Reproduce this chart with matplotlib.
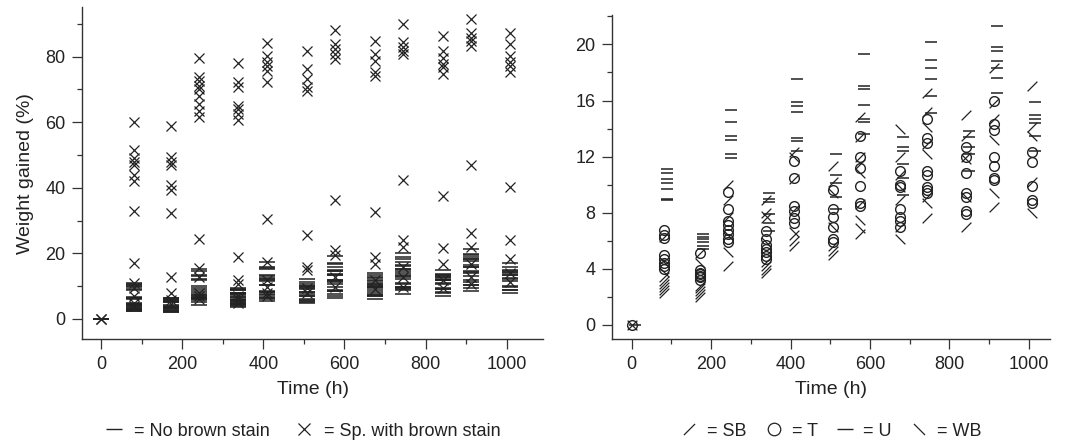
import matplotlib
matplotlib.use('Agg')
import matplotlib.pyplot as plt
from matplotlib.lines import Line2D
from matplotlib.ticker import MultipleLocator

plt.rcParams['font.family'] = ['Liberation Sans', 'DejaVu Sans']

# Exposure times (h)
times = [0, 80, 172, 242, 338, 408, 507, 576, 675, 745, 842, 912, 1008]

# Right panel: weight gained (%) of specimens without brown stain, per wood type
sb = [[0], [6.3, 3.4, 3.1, 2.9, 2.7, 2.5, 2.3], [5.1, 2.8, 2.6, 2.4, 2.2, 2.0],
      [10.0, 8.9, 7.7, 4.2], [8.9, 8.0, 7.6, 4.5, 4.2, 3.9, 3.7],
      [12.3, 10.4, 8.2, 6.4, 6.0, 5.6], [11.3, 10.2, 5.6, 5.3, 5.0],
      [14.8, 13.4, 12.0, 11.5, 8.6, 6.5], [12.0, 10.7, 8.9, 7.0],
      [16.5, 15.2, 12.9, 9.1, 7.6], [15.0, 13.5, 12.0, 7.0],
      [18.3, 15.8, 14.7, 8.4], [17.0, 14.1, 10.2]]
t_wood = [[0], [6.8, 6.4, 6.2, 5.0, 4.7, 4.4, 4.2, 4.0], [5.1, 3.9, 3.7, 3.6, 3.5, 3.4, 3.2],
          [9.5, 8.3, 7.4, 7.1, 6.8, 6.5, 6.1, 5.9], [6.7, 6.1, 5.7, 5.4, 5.2, 4.9, 4.7],
          [11.7, 10.5, 8.5, 8.1, 7.6, 7.3], [9.6, 8.3, 7.7, 7.0, 6.1, 5.9],
          [13.5, 12.0, 11.2, 9.9, 8.7, 8.5], [11.0, 10.0, 9.8, 8.3, 7.7, 7.4, 7.0],
          [14.7, 13.3, 13.0, 11.0, 10.7, 9.8, 9.6, 9.4], [12.7, 12.0, 10.8, 9.4, 9.1, 8.1, 7.9],
          [16.0, 14.3, 13.9, 12.0, 11.3, 10.5, 10.3], [12.3, 11.6, 9.9, 8.9, 8.7]]
u = [[0], [11.1, 10.8, 10.4, 10.1, 9.7, 9.0, 8.9], [6.5, 6.3, 6.1, 5.9, 5.6, 5.4],
     [15.3, 14.5, 13.5, 13.2, 12.2, 11.9], [9.4, 9.0, 8.8, 7.9, 7.3, 6.7],
     [17.5, 15.9, 15.6, 15.2, 13.3, 13.1, 12.4], [12.2, 10.7, 10.1, 9.1, 8.3],
     [19.3, 17.0, 16.8, 15.7, 14.7, 14.5, 13.6], [13.4, 12.7, 12.4, 11.5, 10.5, 9.3],
     [20.2, 18.9, 18.3, 17.5, 16.3, 15.1], [13.8, 13.4, 12.7, 12.2, 11.0],
     [21.3, 19.8, 19.5, 18.8, 18.3, 17.6, 16.5], [15.9, 15.0, 14.7, 14.4, 13.5, 12.4]]
wb = [[0], [3.8, 4.5], [4.4], [5.2, 6.4], [7.8, 5.9], [6.6, 12.0], [9.4, 7.0],
      [10.8, 7.5, 6.9], [14.0, 6.1, 9.8], [14.1, 12.2, 8.7], [11.8, 9.1],
      [13.2, 9.4], [13.5, 8.0]]

# Left panel: specimens with brown stain
brown = [[0, 0],
         [60, 51.5, 49, 48, 47, 44, 42, 33, 17, 11, 9.5, 7, 5, 4],
         [58.8, 49.3, 47.8, 46.8, 40.7, 39.2, 32.4, 12.9, 7.8, 5.8, 4.5],
         [79.7, 73.9, 72.6, 71.1, 70, 68, 65.5, 63.5, 61.5, 24.5, 15.4, 12.9, 8, 7, 6],
         [77.9, 72.1, 70.8, 65, 64, 62.5, 60.8, 18.9, 11.9, 10.8, 7, 6, 5],
         [84, 80.2, 78.4, 77.2, 75.7, 72.3, 30.6, 17.4, 11.9, 9.8, 8, 7],
         [81.8, 76.2, 73.2, 70.8, 69.6, 25.7, 15.9, 14.9, 9.3, 8],
         [88.1, 83.8, 82.3, 80.7, 79.2, 36.4, 21, 19.5, 12.9, 9.8],
         [84.8, 80.7, 78.7, 75.4, 74.2, 32.5, 18.9, 16.9, 11.9, 9],
         [89.9, 84.3, 82.8, 81.8, 80.7, 42.5, 24, 22, 15.9, 12.9, 9.8],
         [86.3, 81.8, 79.7, 77.7, 76.7, 74.7, 37.4, 21.5, 16.9, 11.9, 9.3],
         [91.4, 87.3, 85.8, 84.8, 83.3, 46.8, 26.2, 22, 16.9, 12.9, 10.8],
         [87.3, 83.8, 80.2, 78.2, 77.2, 75.4, 40.2, 24.2, 18.4, 13.9, 11.3]]

ink = '#222222'
slash = [(-1, -1), (1, 1)]
backslash = [(-1, 1), (1, -1)]


def flat(groups):
    xs, ys = [], []
    for t, vals in zip(times, groups):
        xs += [t] * len(vals)
        ys += vals
    return xs, ys


def style(ax):
    for s in ['top', 'right']:
        ax.spines[s].set_visible(False)
    for s in ['left', 'bottom']:
        ax.spines[s].set_color('#333333')
        ax.spines[s].set_linewidth(1.0)
    ax.tick_params(which='major', direction='out', length=7, width=0.9,
                   colors='#333333', labelsize=13, labelcolor=ink, pad=5)
    ax.tick_params(which='minor', direction='out', length=3.5, width=0.9,
                   colors='#333333')
    ax.xaxis.set_major_locator(MultipleLocator(200))
    ax.xaxis.set_minor_locator(MultipleLocator(100))
    ax.set_xlabel('Time (h)', fontsize=14, color=ink, labelpad=6)


fig = plt.figure(figsize=(10.65, 4.47), dpi=100)
ax1 = fig.add_axes([0.077, 0.2416, 0.433, 0.742])
ax2 = fig.add_axes([0.5746, 0.2416, 0.411, 0.725])

# Left panel
no_stain = [a + b + c + d for a, b, c, d in zip(sb, t_wood, u, wb)]
x, y = flat(no_stain)
ax1.plot(x, y, ls='none', marker='_', ms=12, mew=1.1, color=ink)
x, y = flat(brown)
ax1.plot(x, y, ls='none', marker='x', ms=7.5, mew=0.9, color=ink)
ax1.set_xlim(-47, 1090)
ax1.set_ylim(-6.1, 95)
ax1.yaxis.set_major_locator(MultipleLocator(20))
ax1.yaxis.set_minor_locator(MultipleLocator(10))
ax1.set_ylabel('Weight gained (%)', fontsize=14, color=ink, labelpad=8)
style(ax1)

# Right panel
x, y = flat(u)
ax2.plot([v + 8 for v in x], y, ls='none', marker='_', ms=9, mew=1.1, color=ink)
x, y = flat(t_wood)
ax2.plot(x, y, ls='none', marker='o', ms=7, mew=1.0, mfc='none', color=ink)
x, y = flat(sb)
ax2.plot(x, y, ls='none', marker=slash, ms=7, mew=0.9, color=ink)
x, y = flat(wb)
ax2.plot(x, y, ls='none', marker=backslash, ms=7, mew=0.9, color=ink)
ax2.set_xlim(-50, 1053)
ax2.set_ylim(-1.0, 22.1)
ax2.yaxis.set_major_locator(MultipleLocator(4))
ax2.yaxis.set_minor_locator(MultipleLocator(2))
style(ax2)

# Legends below the panels
h1 = [Line2D([], [], ls='none', marker='_', ms=12, mew=1.0, color=ink),
      Line2D([], [], ls='none', marker='x', ms=9, mew=0.9, color=ink)]
fig.legend(h1, ['= No brown stain', '= Sp. with brown stain'], ncol=2,
           loc='center', bbox_to_anchor=(302 / 1065, 1 - 431 / 447), frameon=False,
           fontsize=13, handlelength=1.2, handletextpad=0.5, columnspacing=1.3,
           labelcolor=ink)
h2 = [Line2D([], [], ls='none', marker=slash, ms=8, mew=0.9, color=ink),
      Line2D([], [], ls='none', marker='o', ms=9, mew=0.9, mfc='none', color=ink),
      Line2D([], [], ls='none', marker='_', ms=12, mew=1.0, color=ink),
      Line2D([], [], ls='none', marker=backslash, ms=8, mew=0.9, color=ink)]
fig.legend(h2, ['= SB', '= T', '= U', '= WB'], ncol=4,
           loc='center', bbox_to_anchor=(830 / 1065, 1 - 431 / 447), frameon=False,
           fontsize=13, handlelength=1.2, handletextpad=0.4, columnspacing=0.9,
           labelcolor=ink)

fig.savefig('out.png', dpi=100)
